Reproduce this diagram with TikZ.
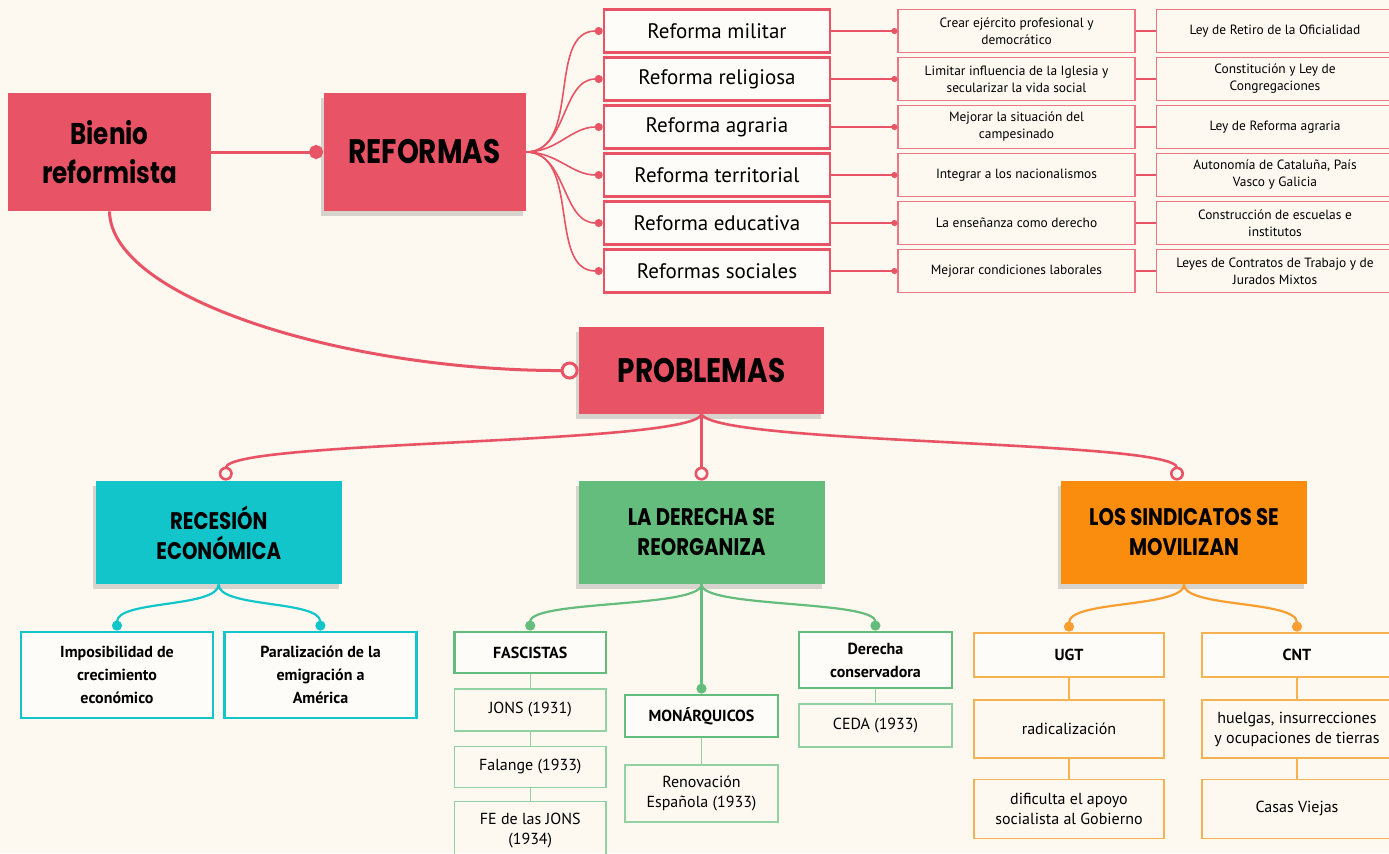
\documentclass[tikz,border=0pt]{standalone}
\usepackage{fontspec}
\setmainfont{PT Sans}
\newfontfamily\headfont{Poppins}[FakeStretch=0.82]
\usetikzlibrary{positioning,arrows.meta,shadows}
\definecolor{fondo}{RGB}{253,249,240}
\definecolor{rosa}{RGB}{232,84,102}
\definecolor{turquesa}{RGB}{18,197,202}
\definecolor{verde}{RGB}{100,189,124}
\definecolor{naranja}{RGB}{250,141,14}
\definecolor{naranjaclaro}{RGB}{246,178,80}
\tikzset{
	cabecera/.style={rectangle, fill=rosa, align=center, font=\headfont\bfseries\fontsize{17}{20}\selectfont},
	tema/.style={rectangle, align=center, minimum width=123pt, minimum height=51.5pt, font=\headfont\bfseries\fontsize{12}{15}\selectfont},
	sombra/.style={drop shadow={shadow xshift=-1.5pt, shadow yshift=-2.5pt, opacity=0.3}},
	reforma/.style={rectangle, draw=rosa, line width=1.3pt, fill=fondo!50!white, minimum width=113pt, minimum height=21.5pt, font=\fontsize{10.5}{12}\selectfont},
	objetivo/.style={rectangle, draw=rosa!80, line width=0.6pt, minimum width=118.5pt, minimum height=21.5pt, align=center, font=\fontsize{6.7}{8.5}\selectfont},
	grupo/.style={rectangle, line width=1.4pt, fill=fondo!50!white, align=center, font=\bfseries\fontsize{8}{11.5}\selectfont},
	hoja/.style={rectangle, line width=0.6pt, align=center, font=\fontsize{8}{10}\selectfont}
}
\begin{document}
\begin{tikzpicture}[x=0.5pt, y=-0.5pt,
	enlace/.style={rosa, line width=1.5pt},
	abanico/.style={rosa, line width=0.8pt, -{Circle[length=4pt]}},
	hilo/.style={rosa, line width=0.7pt},
	rama/.style={rosa, line width=1.3pt, -{Circle[open,length=7pt]}},
	ramaturq/.style={turquesa, line width=1.1pt, -{Circle[length=5pt]}},
	ramaverde/.style={verde, line width=1.1pt, -{Circle[length=5pt]}},
	ramanaranja/.style={naranja!85, line width=1.1pt, -{Circle[length=5pt]}}]
\useasboundingbox (0,0) rectangle (1389,853);
\clip (0,0) rectangle (1389,853);
\fill[fondo] (0,0) rectangle (1389,853);

% bienio y reformas
\node[cabecera, minimum width=101.5pt, minimum height=59pt, font=\headfont\bfseries\fontsize{15}{19.5}\selectfont] (Bienio) at (109.5,152) {Bienio\\reformista};
\node[cabecera, sombra, minimum width=101pt, minimum height=59pt] (Reformas) at (424.5,152) {REFORMAS};

\node[reforma] (R1) at (717,31) {Reforma militar};
\node[reforma] (R2) at (717,79) {Reforma religiosa};
\node[reforma] (R3) at (717,127) {Reforma agraria};
\node[reforma] (R4) at (717,175) {Reforma territorial};
\node[reforma] (R5) at (717,223) {Reforma educativa};
\node[reforma] (R6) at (717,271) {Reformas sociales};

\node[objetivo] (M1) at (1016.5,31) {Crear ejército profesional y\\democrático};
\node[objetivo] (M2) at (1016.5,79) {Limitar influencia de la Iglesia y\\secularizar la vida social};
\node[objetivo] (M3) at (1016.5,127) {Mejorar la situación del\\campesinado};
\node[objetivo] (M4) at (1016.5,175) {Integrar a los nacionalismos};
\node[objetivo] (M5) at (1016.5,223) {La enseñanza como derecho};
\node[objetivo] (M6) at (1016.5,271) {Mejorar condiciones laborales};

\node[objetivo] (L1) at (1275,31) {Ley de Retiro de la Oficialidad};
\node[objetivo] (L2) at (1275,79) {Constitución y Ley de\\Congregaciones};
\node[objetivo] (L3) at (1275,127) {Ley de Reforma agraria};
\node[objetivo] (L4) at (1275,175) {Autonomía de Cataluña, País\\Vasco y Galicia};
\node[objetivo] (L5) at (1275,223) {Construcción de escuelas e\\institutos};
\node[objetivo] (L6) at (1275,271) {Leyes de Contratos de Trabajo y de\\Jurados Mixtos};

\draw[enlace, -{Circle[length=7pt]}] (Bienio) -- (Reformas);
\draw[abanico] (Reformas.east) to[out=0, in=180] (R1.west);
\draw[abanico] (Reformas.east) to[out=0, in=180] (R2.west);
\draw[abanico] (Reformas.east) to[out=0, in=180] (R3.west);
\draw[abanico] (Reformas.east) to[out=0, in=180] (R4.west);
\draw[abanico] (Reformas.east) to[out=0, in=180] (R5.west);
\draw[abanico] (Reformas.east) to[out=0, in=180] (R6.west);

\draw[hilo, -{Circle[length=3pt]}] (R1) -- (M1);
\draw[hilo, -{Circle[length=3pt]}] (R2) -- (M2);
\draw[hilo, -{Circle[length=3pt]}] (R3) -- (M3);
\draw[hilo, -{Circle[length=3pt]}] (R4) -- (M4);
\draw[hilo, -{Circle[length=3pt]}] (R5) -- (M5);
\draw[hilo, -{Circle[length=3pt]}] (R6) -- (M6);
\draw[hilo] (M1) -- (L1);
\draw[hilo] (M2) -- (L2);
\draw[hilo] (M3) -- (L3);
\draw[hilo] (M4) -- (L4);
\draw[hilo] (M5) -- (L5);
\draw[hilo] (M6) -- (L6);

% problemas
\node[cabecera, sombra, minimum width=122.5pt, minimum height=43.5pt] (Problemas) at (701.5,370.5) {PROBLEMAS};
\draw[enlace, -{Circle[open,length=9pt]}] (Bienio.south) .. controls (111,300) and (350,371) .. (Problemas.west);

\node[tema, sombra, fill=turquesa] (Recesion) at (218.75,532.5) {RECESIÓN\\ECONÓMICA};
\node[tema, sombra, fill=verde] (Derecha) at (701.5,532.5) {LA DERECHA SE\\REORGANIZA};
\node[tema, sombra, fill=naranja] (Sindicatos) at (1184,532.5) {LOS SINDICATOS SE\\MOVILIZAN};

\draw[rama] (Problemas.south) .. controls (690,445) and (226,440) .. ([xshift=3.5pt]Recesion.north);
\draw[rama] (Problemas) -- (Derecha);
\draw[rama] (Problemas.south) .. controls (720,445) and (1177,440) .. ([xshift=-3.5pt]Sindicatos.north);

% recesion economica
\node[grupo, draw=turquesa, minimum width=96pt, minimum height=43pt] (Impos) at (117,675) {Imposibilidad de\\crecimiento\\económico};
\node[grupo, draw=turquesa, minimum width=96pt, minimum height=43pt] (Paral) at (320.5,675) {Paralización de la\\emigración a\\América};
\draw[ramaturq] (Recesion.south) .. controls (218,608) and (117,600) .. (Impos.north);
\draw[ramaturq] (Recesion.south) .. controls (218,608) and (320,600) .. (Paral.north);

% la derecha
\node[grupo, draw=verde, minimum width=75.75pt, minimum height=20.5pt] (Fas) at (530.25,652.5) {FASCISTAS};
\node[hoja, draw=verde!70, minimum width=75.75pt, minimum height=21pt] (Jons) [below=7pt of Fas] {JONS (1931)};
\node[hoja, draw=verde!70, minimum width=75.75pt, minimum height=20.5pt] (Falange) [below=7pt of Jons] {Falange (1933)};
\node[hoja, draw=verde!70, minimum width=75.75pt, minimum height=29pt] (Fe) [below=6.5pt of Falange] {FE de las JONS\\(1934)};
\node[grupo, draw=verde, minimum width=76.5pt, minimum height=21pt] (Mon) at (701.5,716) {MONÁRQUICOS};
\node[hoja, draw=verde!70, minimum width=76.5pt, minimum height=28.5pt] (Renov) [below=13pt of Mon] {Renovación\\Española (1933)};
\node[grupo, draw=verde, minimum width=76.5pt, minimum height=28pt] (Cons) at (875.5,660) {Derecha\\conservadora};
\node[hoja, draw=verde!70, minimum width=76.5pt, minimum height=21.5pt] (Ceda) [below=7pt of Cons] {CEDA (1933)};
\draw[ramaverde] (Derecha.south) .. controls (701,608) and (530,600) .. (Fas.north);
\draw[ramaverde] (Derecha) -- (Mon);
\draw[ramaverde] (Derecha.south) .. controls (701,608) and (875,600) .. (Cons.north);
\draw[verde!70, line width=0.6pt] (Fas) -- (Jons);
\draw[verde!70, line width=0.6pt] (Jons) -- (Falange);
\draw[verde!70, line width=0.6pt] (Falange) -- (Fe);
\draw[verde!70, line width=0.6pt] (Mon) -- (Renov);
\draw[verde!70, line width=0.6pt] (Cons) -- (Ceda);

% los sindicatos
\node[grupo, draw=naranjaclaro, minimum width=95pt, minimum height=22pt] (Ugt) at (1069,655) {UGT};
\node[hoja, draw=naranjaclaro, minimum width=95pt, minimum height=29pt] (Radical) [below=10.5pt of Ugt] {radicalización};
\node[hoja, draw=naranjaclaro, minimum width=95pt, minimum height=29.5pt] (Apoyo) [below=10pt of Radical] {dificulta el apoyo\\socialista al Gobierno};
\node[grupo, draw=naranjaclaro, minimum width=95pt, minimum height=22pt] (Cnt) at (1297,655) {CNT};
\node[hoja, draw=naranjaclaro, minimum width=95pt, minimum height=29pt] (Huelgas) [below=10.5pt of Cnt] {huelgas, insurrecciones\\y ocupaciones de tierras};
\node[hoja, draw=naranjaclaro, minimum width=95pt, minimum height=29.5pt] (Casas) [below=10pt of Huelgas] {Casas Viejas};
\draw[ramanaranja] (Sindicatos.south) .. controls (1184,608) and (1069,600) .. (Ugt.north);
\draw[ramanaranja] (Sindicatos.south) .. controls (1184,608) and (1297,600) .. (Cnt.north);
\draw[naranjaclaro, line width=0.6pt] (Ugt) -- (Radical);
\draw[naranjaclaro, line width=0.6pt] (Radical) -- (Apoyo);
\draw[naranjaclaro, line width=0.6pt] (Cnt) -- (Huelgas);
\draw[naranjaclaro, line width=0.6pt] (Huelgas) -- (Casas);
\end{tikzpicture}
\end{document}
